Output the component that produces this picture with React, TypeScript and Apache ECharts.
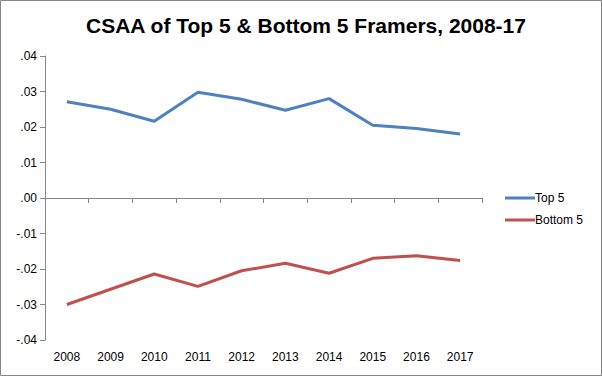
import React, { useEffect, useRef } from "react";
import * as echarts from "echarts";

const years = ["2008", "2009", "2010", "2011", "2012", "2013", "2014", "2015", "2016", "2017"];
const top5 = [0.0271, 0.025, 0.0216, 0.0298, 0.0278, 0.0247, 0.028, 0.0205, 0.0196, 0.018];
const bottom5 = [-0.03, -0.0257, -0.0214, -0.0249, -0.0205, -0.0184, -0.0212, -0.017, -0.0163, -0.0176];

const FONT = "Liberation Sans";

export default function App() {
  const ref = useRef<HTMLDivElement>(null);
  useEffect(() => {
    const chart = echarts.init(ref.current!, null, { renderer: "svg" });
    chart.setOption({
      animation: false,
      backgroundColor: "#ffffff",
      textStyle: { fontFamily: FONT },
      title: {
        text: "CSAA of Top 5 & Bottom 5 Framers, 2008-17",
        left: 301,
        textAlign: "center",
        top: 10,
        textStyle: { fontFamily: FONT, fontSize: 21, fontWeight: "bold", color: "#000" },
      },
      graphic: [
        {
          type: "rect",
          shape: { x: 0.5, y: 0.5, width: 601, height: 375 },
          style: { fill: "none", stroke: "#868686", lineWidth: 1 },
          silent: true,
        },
      ],
      legend: {
        orient: "vertical",
        left: 500,
        top: 187,
        itemGap: 10,
        itemWidth: 30,
        itemHeight: 3,
        icon: "rect",
        textStyle: { fontFamily: FONT, fontSize: 12, color: "#000", padding: [0, 0, 0, -5] },
        data: ["Top 5", "Bottom 5"],
      },
      grid: { left: 45, right: 120, top: 56, bottom: 36 },
      xAxis: [
        {
          type: "category",
          data: years,
          boundaryGap: true,
          axisLine: { onZero: true, lineStyle: { color: "#868686", width: 1 } },
          axisTick: { show: true, length: 5, lineStyle: { color: "#868686" } },
          axisLabel: { show: false },
        },
        {
          type: "category",
          data: years,
          position: "bottom",
          boundaryGap: true,
          axisLine: { show: false, onZero: false },
          axisTick: { show: false },
          axisLabel: { show: true, fontFamily: FONT, fontSize: 12, color: "#000", margin: 11 },
        },
      ],
      yAxis: {
        type: "value",
        min: -0.04,
        max: 0.04,
        interval: 0.01,
        axisLine: { show: true, lineStyle: { color: "#868686", width: 1 } },
        axisTick: { show: true, length: 5, lineStyle: { color: "#868686" } },
        splitLine: { show: false },
        axisLabel: {
          fontFamily: FONT,
          fontSize: 12,
          color: "#000",
          margin: 8,
          formatter: (v: number) => {
            const s = (Math.round(v * 100) / 100).toFixed(2);
            return s.replace("0.", ".");
          },
        },
      },
      series: [
        {
          name: "Top 5",
          type: "line",
          data: top5,
          xAxisIndex: 0,
          symbol: "none",
          lineStyle: { color: "#4F81BD", width: 3 },
          itemStyle: { color: "#4F81BD" },
        },
        {
          name: "Bottom 5",
          type: "line",
          data: bottom5,
          xAxisIndex: 0,
          symbol: "none",
          lineStyle: { color: "#C0504D", width: 3 },
          itemStyle: { color: "#C0504D" },
        },
      ],
    });
    return () => chart.dispose();
  }, []);
  return (
    <div
      ref={ref}
      style={{ position: "fixed", left: 0, top: 0, width: 602, height: 376 }}
    />
  );
}
